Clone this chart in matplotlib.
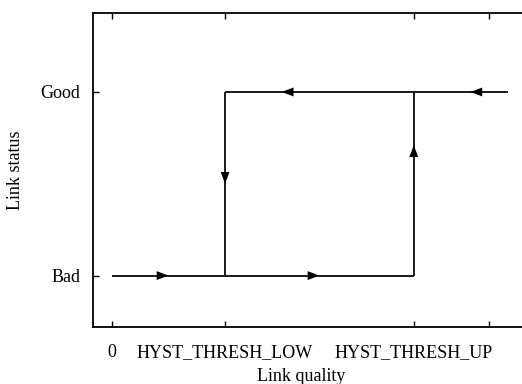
import matplotlib
matplotlib.use("Agg")
import matplotlib.pyplot as plt

plt.rcParams['font.family'] = ['Liberation Serif', 'DejaVu Serif']

# Link quality axis: tick positions and labels
x_ticks = [0, 3, 8, 10]
x_ticklabels = ['0', 'HYST_THRESH_LOW', 'HYST_THRESH_UP', '']
# Link status levels
y_ticks = [0, 1]
y_ticklabels = ['Bad', 'Good']

# Hysteresis path segments (x list, y list)
bad_x = [0, 8]
bad_y = [0, 0]
good_x = [3, 10.5]
good_y = [1, 1]
low_x = [3, 3]
low_y = [0, 1]
up_x = [8, 8]
up_y = [0, 1]

# Direction arrows: tip position and direction
arrow_x = [1.5, 5.5, 4.5, 9.5, 3.0, 8.0]
arrow_y = [0.0, 0.0, 1.0, 1.0, 0.5, 0.71]
arrow_dx = [1, 1, -1, -1, 0, 0]
arrow_dy = [0, 0, 0, 0, -1, 1]

fig = plt.figure(figsize=(5.22, 3.84), dpi=100)
ax = fig.add_axes([93 / 522, 57 / 384, 434 / 522, 314 / 384])

line_kw = dict(color='#1a1a1a', lw=1.4, solid_capstyle='butt')
for xs, ys in [(bad_x, bad_y), (good_x, good_y), (low_x, low_y), (up_x, up_y)]:
    ax.plot(xs, ys, **line_kw)

for x, y, dx, dy in zip(arrow_x, arrow_y, arrow_dx, arrow_dy):
    ax.annotate('', xy=(x, y), xytext=(x - 0.35 * dx, y - 0.07 * dy),
                arrowprops=dict(arrowstyle='-|>,head_length=0.85,head_width=0.32',
                                mutation_scale=10, color='black', lw=0,
                                shrinkA=0, shrinkB=0))

ax.set_xlim(-0.5, 11)
ax.set_ylim(-0.28, 1.43)
ax.set_xticks(x_ticks)
ax.set_xticklabels(x_ticklabels, fontsize=13)
ax.set_yticks(y_ticks)
ax.set_yticklabels(y_ticklabels, fontsize=13)
ax.tick_params(direction='in', length=4, width=1, top=True, right=False, pad=12)
ax.tick_params(axis='y', pad=9)
for s in ax.spines.values():
    s.set_linewidth(1.3)

ax.set_xlabel('Link quality', fontsize=13)
ax.set_ylabel('Link status', fontsize=13)
ax.xaxis.set_label_coords((301 - 93) / 434, -(368 - 327) / 314, transform=ax.transAxes)
ax.yaxis.set_label_coords(-(93 - 24) / 434, 0.5, transform=ax.transAxes)

fig.savefig('out.png', dpi=100)
